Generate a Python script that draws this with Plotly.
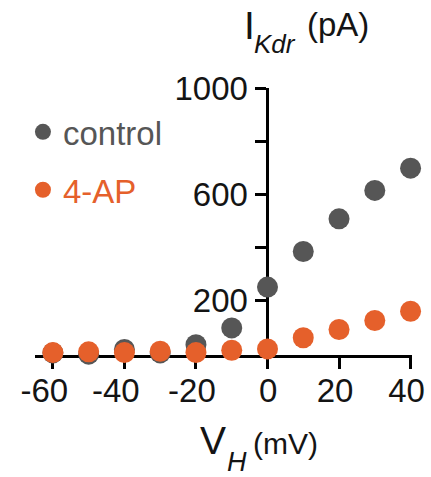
import plotly.graph_objects as go

voltage = [-60, -50, -40, -30, -20, -10, 0, 10, 20, 30, 40]
control = [2, -3, 15, 2, 33, 96, 250, 384, 507, 614, 698]
ap4 = [3, 6, 3, 8, 3, 12, 17, 59, 90, 124, 159]

x_ticks = [-60, -40, -20, 0, 20, 40]
x_ticktext = ["-60\u00a0", "-40\u00a0", "-20", "\u00a00", "20", "40"]
y_ticks = [200, 400, 600, 800, 1000]
y_ticktext = ["200", "", "600", "", "1000"]

GRAY = "#565656"
ORANGE = "#E5602B"
TEXT = "#141414"
FONT = "Liberation Sans, Arial, sans-serif"

x_range = [-65, 40.4]
y_range = [-6, 1000]
y_pos = (0 - x_range[0]) / (x_range[1] - x_range[0])

# plot area on screen: x 35..412.5, y 88..355.5 (page body margin removed below)
SL, SR, ST, SB = 35, 412.5, 88, 355.5
W, H = 431, 477


def px(sx):
    return (sx - SL) / (SR - SL)


def py(sy):
    return (SB - sy) / (SB - ST)


fig = go.Figure()
fig.add_trace(go.Scatter(x=voltage, y=control, mode="markers", name="control",
                         marker=dict(color=GRAY, size=21), cliponaxis=False,
                         legend="legend"))
fig.add_trace(go.Scatter(x=voltage, y=ap4, mode="markers", name="4-AP",
                         marker=dict(color=ORANGE, size=21), cliponaxis=False,
                         legend="legend2"))

fig.update_layout(
    width=W, height=H,
    margin=dict(l=SL, r=W - SR, t=ST, b=H - SB, autoexpand=False),
    paper_bgcolor="white", plot_bgcolor="white",
    font=dict(family=FONT, size=33, color=TEXT),
    xaxis=dict(range=x_range, tickvals=x_ticks, ticktext=x_ticktext,
               showline=True, linewidth=3, automargin=False,
               ticklabelstandoff=-7, ticklabelshift=-4,
               linecolor="black", ticks="outside", ticklen=11, tickwidth=3,
               tickcolor="black", showgrid=False, zeroline=False,
               layer="below traces", tickfont=dict(size=33)),
    yaxis=dict(range=y_range, tickvals=y_ticks, ticktext=y_ticktext,
               anchor="free", position=y_pos, showline=True, linewidth=3,
               automargin=False, ticklabelstandoff=1,
               linecolor="black", ticks="outside", ticklen=11, tickwidth=3,
               tickcolor="black", showgrid=False, zeroline=False,
               layer="below traces", tickfont=dict(size=33)),
    legend=dict(x=-0.032, y=py(132), xanchor="left", yanchor="middle",
                font=dict(size=33, color=GRAY, family=FONT),
                bgcolor="rgba(0,0,0,0)"),
    legend2=dict(x=-0.032, y=py(190), xanchor="left", yanchor="middle",
                 font=dict(size=33, color=ORANGE, family=FONT),
                 bgcolor="rgba(0,0,0,0)"),
    showlegend=True,
)


def label(text, sx, sy, size):
    fig.add_annotation(text=text, xref="paper", yref="paper", x=px(sx), y=py(sy),
                       xanchor="left", yanchor="middle", showarrow=False,
                       borderpad=0, font=dict(size=size, family=FONT, color=TEXT))


# y-axis title: I_Kdr (pA)
label("I", 243, 25, 39)
label("<i>Kdr</i>", 253, 44.4, 26)
label("(pA)", 306, 24, 33)
# x-axis title: V_H (mV)
label("V", 199, 441.4, 39)
label("<i>H</i>", 226, 462.5, 27)
label("(mV)", 252, 444, 30)

fig.write_html("out.html", config={"displayModeBar": False},
               post_script="document.body.style.margin='0';"
                           "document.body.style.overflow='hidden';")
